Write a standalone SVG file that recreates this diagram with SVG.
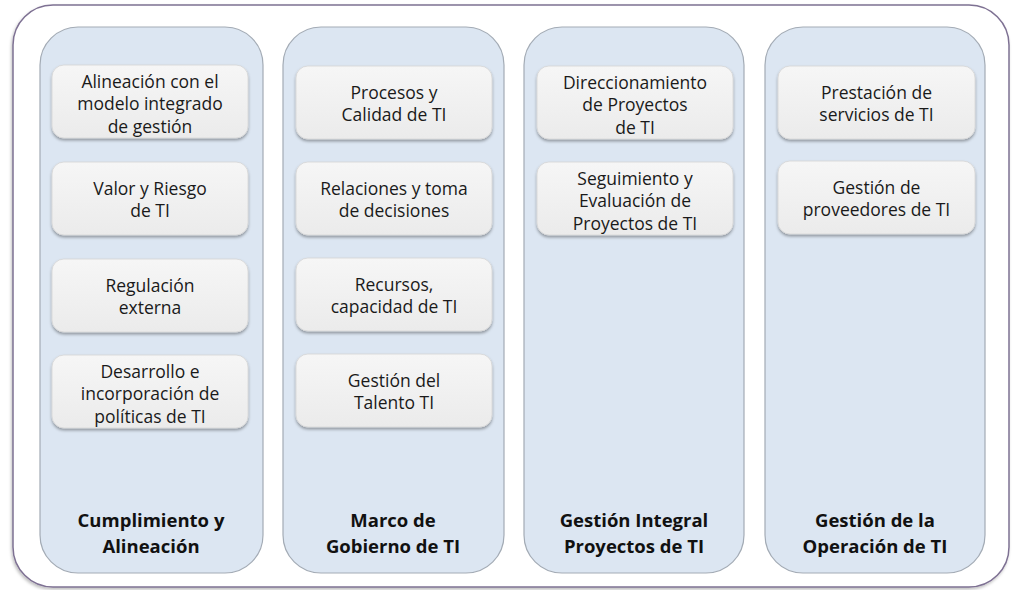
<svg xmlns="http://www.w3.org/2000/svg" width="1013" height="590" viewBox="0 0 1013 590">
<defs>
<linearGradient id="boxg" x1="0" y1="0" x2="0" y2="1">
<stop offset="0" stop-color="#f6f6f6"/>
<stop offset="1" stop-color="#ebebeb"/>
</linearGradient>
<filter id="sh" x="-10%" y="-10%" width="120%" height="130%">
<feDropShadow dx="0" dy="2" stdDeviation="1.5" flood-color="#000" flood-opacity="0.35"/>
</filter>
<filter id="osh" x="-5%" y="-5%" width="110%" height="110%">
<feDropShadow dx="-1" dy="2" stdDeviation="1.5" flood-color="#000" flood-opacity="0.25"/>
</filter>
</defs>
<style>
.frame{fill:#ffffff;stroke:#7e7193;stroke-width:1.5}
.col{fill:#dce6f2;stroke:#a3abb5;stroke-width:1.2}
.box{fill:url(#boxg);stroke:#d6d6d6;stroke-width:0.8;filter:url(#sh)}
.t{font-family:"Open Sans","Liberation Sans",sans-serif;font-size:17.5px;fill:#1a1a1a;text-anchor:middle}
.h{font-family:"Open Sans","Liberation Sans",sans-serif;font-size:18.5px;font-weight:bold;fill:#111;text-anchor:middle}
</style>
<rect width="1013" height="590" fill="#ffffff"/>
<rect class="frame" x="13" y="5" width="996" height="582" rx="40" filter="url(#osh)"/>

<g id="col1">
<rect class="col" x="40" y="27" width="223" height="546" rx="38"/>
<text class="h" x="151" y="527">Cumplimiento y</text>
<text class="h" x="151" y="553">Alineación</text>
</g>
<g id="col2">
<rect class="col" x="283" y="27" width="221" height="546" rx="38"/>
<text class="h" x="393" y="527">Marco de</text>
<text class="h" x="393" y="553">Gobierno de TI</text>
</g>
<g id="col3">
<rect class="col" x="524" y="27" width="220" height="546" rx="38"/>
<text class="h" x="634" y="527">Gestión Integral</text>
<text class="h" x="634" y="553">Proyectos de TI</text>
</g>
<g id="col4">
<rect class="col" x="765" y="27" width="220" height="546" rx="38"/>
<text class="h" x="875" y="527">Gestión de la</text>
<text class="h" x="875" y="553">Operación de TI</text>
</g>

<g id="b1_1"><rect class="box" x="52" y="65" width="196" height="73" rx="12"/>
<text class="t" x="150" y="87.5">Alineación con el</text><text class="t" x="150" y="110">modelo integrado</text><text class="t" x="150" y="132.5">de gestión</text></g>
<g id="b1_2"><rect class="box" x="52" y="162" width="196" height="73" rx="12"/>
<text class="t" x="150" y="194.5">Valor y Riesgo</text><text class="t" x="150" y="217">de TI</text></g>
<g id="b1_3"><rect class="box" x="52" y="259" width="196" height="73" rx="12"/>
<text class="t" x="150" y="291.5">Regulación</text><text class="t" x="150" y="314">externa</text></g>
<g id="b1_4"><rect class="box" x="52" y="355" width="196" height="73" rx="12"/>
<text class="t" x="150" y="377.5">Desarrollo e</text><text class="t" x="150" y="400">incorporación de</text><text class="t" x="150" y="422.5">políticas de TI</text></g>

<g id="b2_1"><rect class="box" x="296" y="66" width="196" height="73" rx="12"/>
<text class="t" x="394" y="98.5">Procesos y</text><text class="t" x="394" y="121">Calidad de TI</text></g>
<g id="b2_2"><rect class="box" x="296" y="162" width="196" height="73" rx="12"/>
<text class="t" x="394" y="194.5">Relaciones y toma</text><text class="t" x="394" y="217">de decisiones</text></g>
<g id="b2_3"><rect class="box" x="296" y="258" width="196" height="73" rx="12"/>
<text class="t" x="394" y="290.5">Recursos,</text><text class="t" x="394" y="313">capacidad de TI</text></g>
<g id="b2_4"><rect class="box" x="296" y="354" width="196" height="73" rx="12"/>
<text class="t" x="394" y="386.5">Gestión del</text><text class="t" x="394" y="409">Talento TI</text></g>

<g id="b3_1"><rect class="box" x="537" y="66" width="196" height="73" rx="12"/>
<text class="t" x="635" y="88.5">Direccionamiento</text><text class="t" x="635" y="111">de Proyectos</text><text class="t" x="635" y="133.5">de TI</text></g>
<g id="b3_2"><rect class="box" x="537" y="162" width="196" height="73" rx="12"/>
<text class="t" x="635" y="184.5">Seguimiento y</text><text class="t" x="635" y="207">Evaluación de</text><text class="t" x="635" y="229.5">Proyectos de TI</text></g>

<g id="b4_1"><rect class="box" x="778" y="66" width="197" height="73" rx="12"/>
<text class="t" x="876.5" y="98.5">Prestación de</text><text class="t" x="876.5" y="121">servicios de TI</text></g>
<g id="b4_2"><rect class="box" x="778" y="161" width="197" height="73" rx="12"/>
<text class="t" x="876.5" y="193.5">Gestión de</text><text class="t" x="876.5" y="216">proveedores de TI</text></g>

<g id="connectors"></g>
</svg>
